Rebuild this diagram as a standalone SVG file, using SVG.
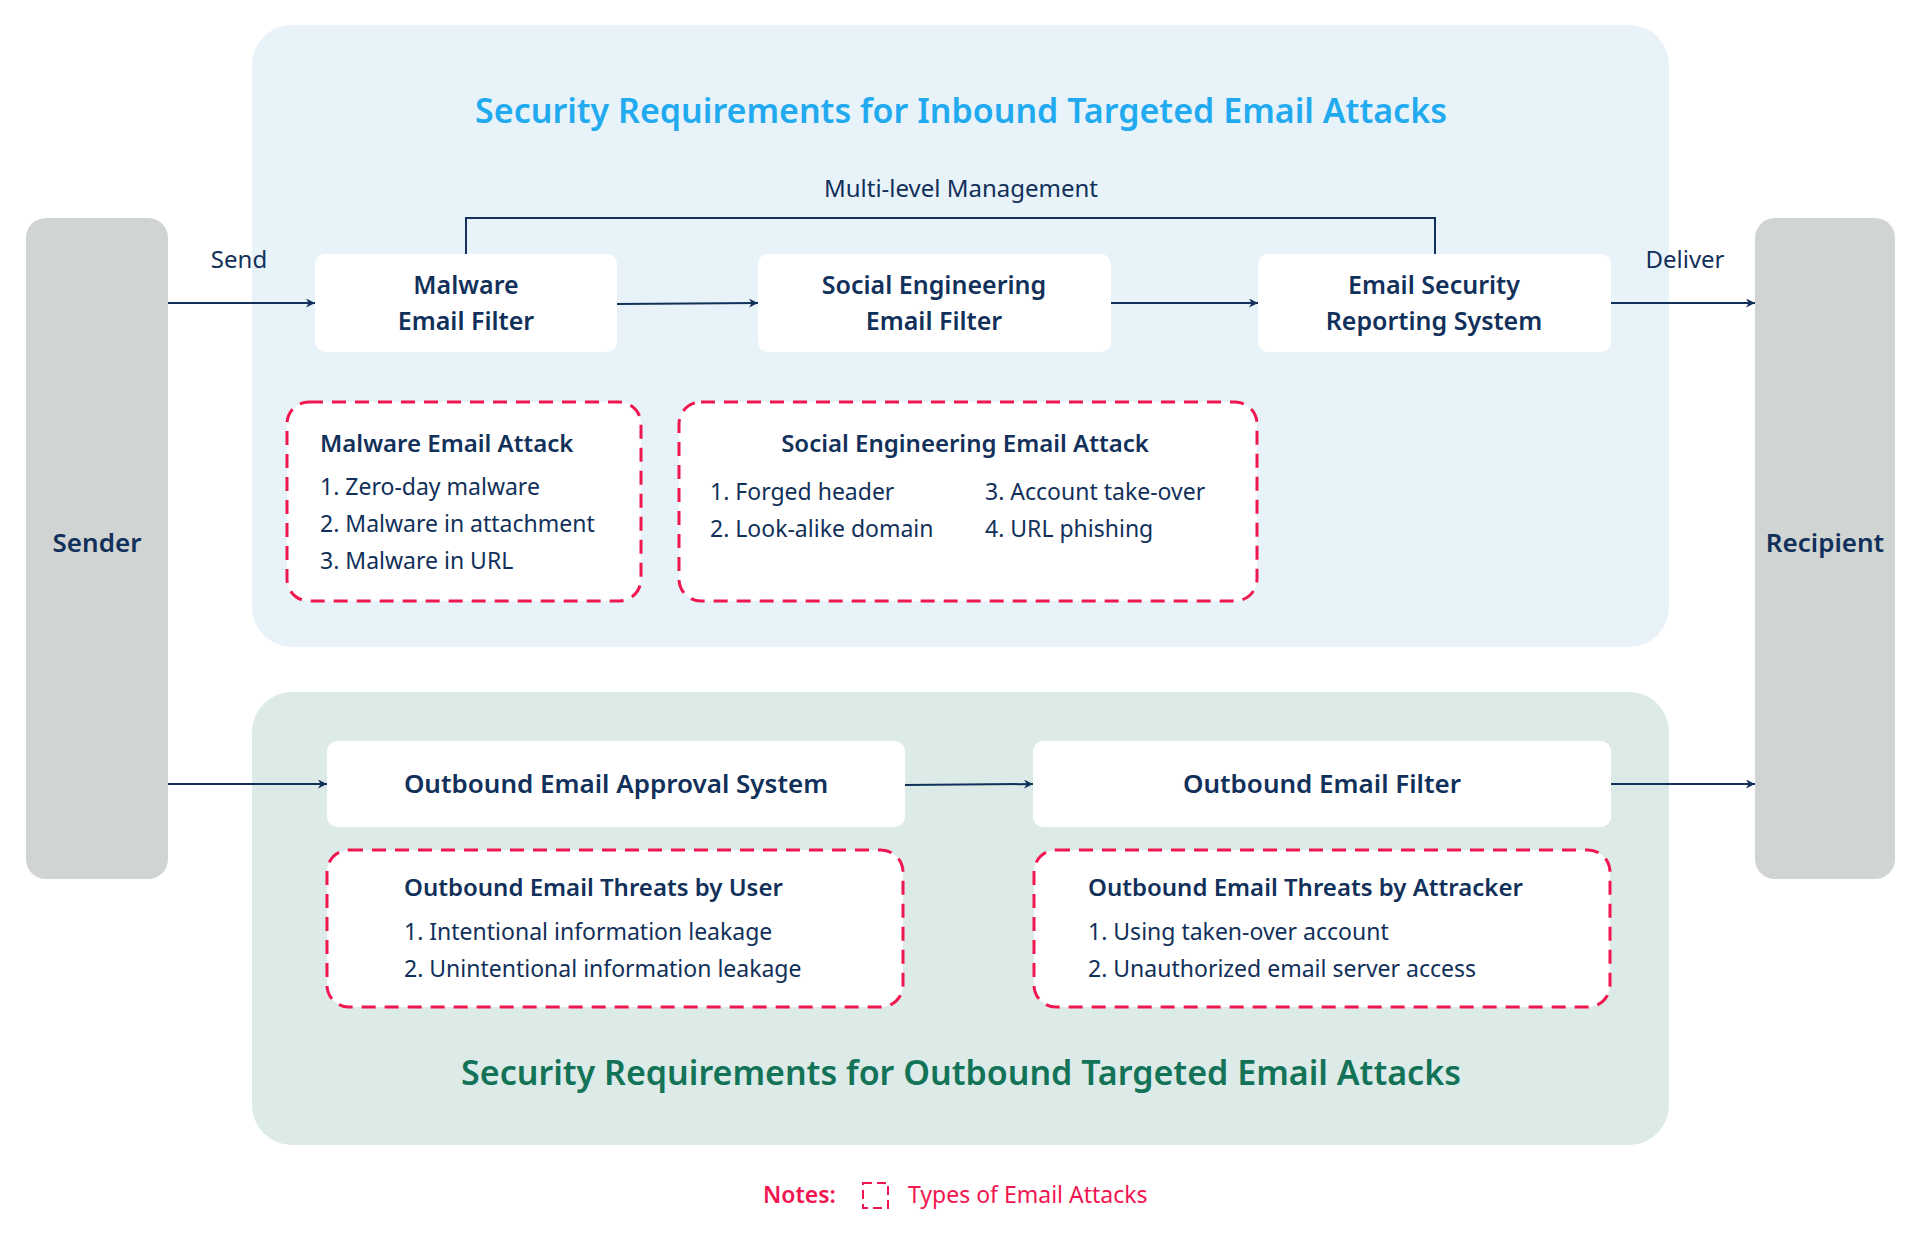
<svg xmlns="http://www.w3.org/2000/svg" width="1920" height="1239" viewBox="0 0 1920 1239">
<defs>
<marker id="ar" viewBox="0 0 10 10" refX="10" refY="5" markerWidth="9" markerHeight="9" markerUnits="userSpaceOnUse" orient="auto"><path d="M0,0 L10,5 L0,10 L3,5 z" fill="#11305a"/></marker>
<style>
text{font-family:"Noto Sans","Open Sans",sans-serif;fill:#11305a}
.b{font-weight:600}
.n{font-size:26px;font-weight:600;text-anchor:middle}
.m{font-size:25px;font-weight:600;text-anchor:middle}
.t{font-size:24px;font-weight:600}
.i{font-size:23px}
.w{fill:#fff}
.d{fill:#fff;stroke:#f0164f;stroke-width:3;stroke-dasharray:14 9}
.c{stroke:#11305a;stroke-width:2;fill:none}
</style>
</defs>
<rect width="1920" height="1239" fill="#fff"/>
<rect x="252" y="25" width="1417" height="622" rx="40" fill="#e8f3f9"/>
<rect x="252" y="692" width="1417" height="453" rx="40" fill="#dceae8"/>
<text x="961" y="123" text-anchor="middle" font-size="34" class="b" style="fill:#22aaf0">Security Requirements for Inbound Targeted Email Attacks</text>
<text x="961" y="1085" text-anchor="middle" font-size="34" class="b" style="fill:#137356">Security Requirements for Outbound Targeted Email Attacks</text>
<g id="sender"><rect x="26" y="218" width="142" height="661" rx="20" fill="#d0d4d3"/><text x="97" y="552" class="n">Sender</text></g>
<g id="recipient"><rect x="1755" y="218" width="140" height="661" rx="20" fill="#d0d4d3"/><text x="1825" y="552" class="n">Recipient</text></g>
<g id="connectors">
<path class="c" d="M466,254 V218 H1435 V254"/>
<path class="c" d="M168,303 H315" marker-end="url(#ar)"/>
<path class="c" d="M617,304 L758,303" marker-end="url(#ar)"/>
<path class="c" d="M1111,303 H1258" marker-end="url(#ar)"/>
<path class="c" d="M1611,303 H1755" marker-end="url(#ar)"/>
<path class="c" d="M168,784 H327" marker-end="url(#ar)"/>
<path class="c" d="M905,785 L1033,784" marker-end="url(#ar)"/>
<path class="c" d="M1611,784 H1755" marker-end="url(#ar)"/>
<text x="239" y="268" font-size="24" text-anchor="middle">Send</text>
<text x="1685" y="268" font-size="24" text-anchor="middle">Deliver</text>
<text x="961" y="197" font-size="24" text-anchor="middle">Multi-level Management</text>
</g>
<g id="malware-filter"><rect x="315" y="254" width="302" height="98" rx="10" class="w"/><text x="466" y="294" class="m">Malware</text><text x="466" y="330" class="m">Email Filter</text></g>
<g id="social-filter"><rect x="758" y="254" width="353" height="98" rx="10" class="w"/><text x="934" y="294" class="m">Social Engineering</text><text x="934" y="330" class="m">Email Filter</text></g>
<g id="reporting"><rect x="1258" y="254" width="353" height="98" rx="10" class="w"/><text x="1434" y="294" class="m">Email Security</text><text x="1434" y="330" class="m">Reporting System</text></g>
<g id="malware-attack"><rect x="287" y="402" width="354" height="199" rx="22" class="d"/>
<text x="320" y="452" class="t">Malware Email Attack</text>
<text x="320" y="495" class="i">1. Zero-day malware</text>
<text x="320" y="532" class="i">2. Malware in attachment</text>
<text x="320" y="569" class="i">3. Malware in URL</text></g>
<g id="social-attack"><rect x="679" y="402" width="578" height="199" rx="22" class="d"/>
<text x="965" y="452" class="t" text-anchor="middle">Social Engineering Email Attack</text>
<text x="710" y="500" class="i">1. Forged header</text>
<text x="710" y="537" class="i">2. Look-alike domain</text>
<text x="985" y="500" class="i">3. Account take-over</text>
<text x="985" y="537" class="i">4. URL phishing</text></g>
<g id="approval"><rect x="327" y="741" width="578" height="86" rx="10" class="w"/><text x="616" y="793" class="n">Outbound Email Approval System</text></g>
<g id="outbound-filter"><rect x="1033" y="741" width="578" height="86" rx="10" class="w"/><text x="1322" y="793" class="n">Outbound Email Filter</text></g>
<g id="user-threats"><rect x="327" y="850" width="576" height="157" rx="22" class="d"/>
<text x="404" y="896" class="t">Outbound Email Threats by User</text>
<text x="404" y="940" class="i">1. Intentional information leakage</text>
<text x="404" y="977" class="i">2. Unintentional information leakage</text></g>
<g id="attacker-threats"><rect x="1034" y="850" width="576" height="157" rx="22" class="d"/>
<text x="1088" y="896" class="t">Outbound Email Threats by Attracker</text>
<text x="1088" y="940" class="i">1. Using taken-over account</text>
<text x="1088" y="977" class="i">2. Unauthorized email server access</text></g>
<g id="notes">
<text x="763" y="1203" font-size="23" class="b" style="fill:#f0164f">Notes:</text>
<rect x="863" y="1183" width="25" height="25" fill="none" stroke="#f0164f" stroke-width="2" stroke-dasharray="9 5"/>
<text x="908" y="1203" font-size="23" style="fill:#f0164f">Types of Email Attacks</text>
</g>
</svg>
